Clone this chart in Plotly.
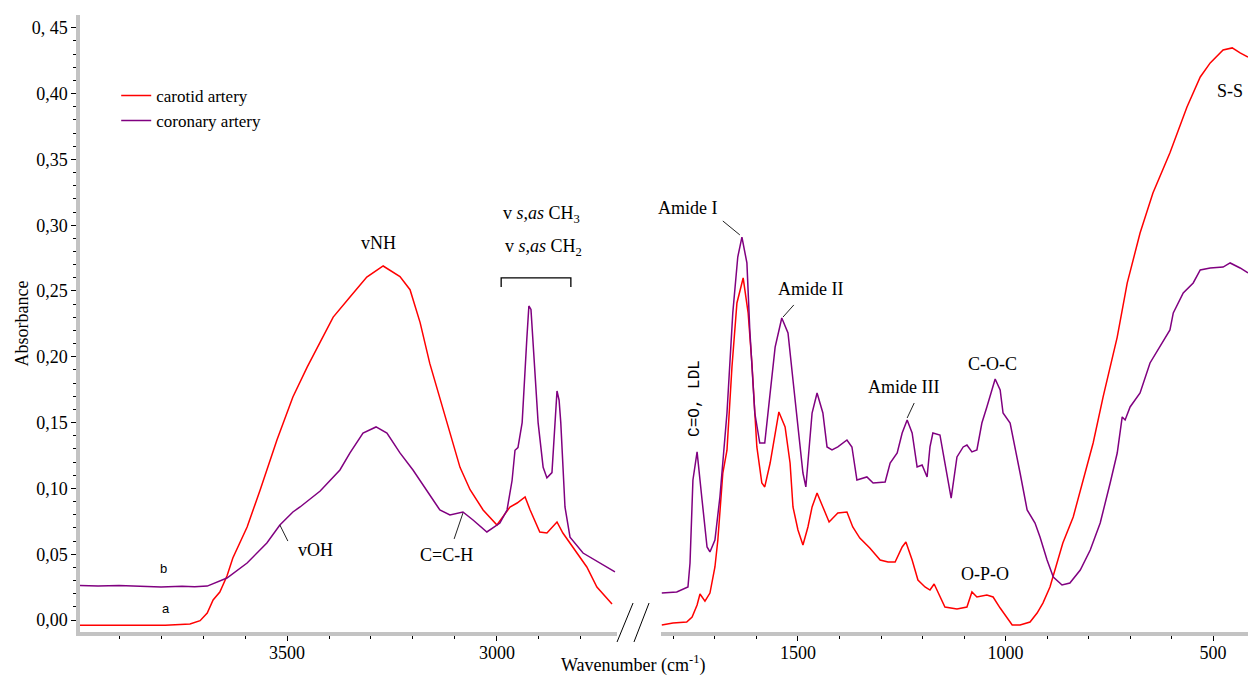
import plotly.graph_objects as go

# ---------------- data ----------------
# left panel (high wavenumber region)
carotid_left_wn = [3993, 3900, 3790, 3731, 3707, 3690, 3676, 3660, 3643, 3629, 3612, 3595,
                   3564, 3524, 3486, 3452, 3421, 3390, 3350, 3310, 3271, 3231, 3207, 3183,
                   3160, 3136, 3112, 3088, 3064, 3033, 3000, 2969, 2952, 2933, 2921, 2898,
                   2881, 2857, 2843, 2819, 2786, 2762, 2726]
carotid_left_abs = [-0.0040, -0.0040, -0.0040, -0.0030, -0.0005, 0.0053, 0.0152, 0.0213, 0.0334, 0.0471, 0.0585, 0.0707,
                    0.0988, 0.1368, 0.1695, 0.1922, 0.2112, 0.2302, 0.2454, 0.2606, 0.2690, 0.2610, 0.2510, 0.2260,
                    0.1950, 0.1690, 0.1420, 0.1160, 0.0990, 0.0836, 0.0722, 0.0859, 0.0889, 0.0935, 0.0836, 0.0669,
                    0.0661, 0.0745, 0.0661, 0.0555, 0.0403, 0.0251, 0.0122]

coronary_left_wn = [3993, 3950, 3900, 3850, 3800, 3750, 3720, 3690, 3643, 3595, 3548, 3517, 3486,
                    3469, 3421, 3374, 3350, 3319, 3288, 3262, 3231, 3200, 3167, 3136, 3112,
                    3081, 3057, 3024, 2993, 2976, 2964, 2957, 2950, 2940, 2929, 2924, 2919,
                    2914, 2902, 2890, 2881, 2869, 2862, 2857, 2852, 2848, 2838, 2826, 2795,
                    2755, 2719]
coronary_left_abs = [0.0262, 0.0258, 0.0262, 0.0255, 0.0250, 0.0256, 0.0252, 0.0258, 0.0319, 0.0433, 0.0585, 0.0722, 0.0821,
                     0.0859, 0.0980, 0.1140, 0.1270, 0.1420, 0.1467, 0.1420, 0.1270, 0.1140, 0.0988, 0.0836, 0.0798,
                     0.0821, 0.0760, 0.0669, 0.0737, 0.0836, 0.1060, 0.1290, 0.1310, 0.1500, 0.2130, 0.2386, 0.2360,
                     0.2130, 0.1500, 0.1160, 0.1080, 0.1120, 0.1500, 0.1740, 0.1670, 0.1500, 0.0859, 0.0630, 0.0509,
                     0.0433, 0.0365]

# right panel (fingerprint region)
carotid_right_wn = [1828, 1801, 1768, 1755, 1743, 1736, 1724, 1712, 1700, 1693, 1681, 1671, 1659,
                    1647, 1632, 1620, 1611, 1599, 1587, 1580, 1567, 1555, 1546, 1531, 1519,
                    1512, 1500, 1488, 1476, 1466, 1454, 1440, 1425, 1404, 1382, 1368, 1351,
                    1327, 1302, 1283, 1266, 1249, 1240, 1225, 1211, 1194, 1182, 1172, 1158,
                    1146, 1117, 1093, 1081, 1069, 1045, 1030, 1013, 996, 984, 965, 941,
                    924, 910, 893, 881, 862, 837, 813, 789, 765, 743, 731, 707, 676, 645,
                    604, 563, 531, 507, 476, 454, 435, 416]
carotid_right_abs = [-0.0038, -0.0023, -0.0015, 0.0023, 0.0114, 0.0198, 0.0144, 0.0205, 0.0403, 0.0608, 0.1117, 0.1290, 0.1922,
                     0.2409, 0.2599, 0.2333, 0.1953, 0.1315, 0.1041, 0.1011, 0.1193, 0.1421, 0.1581, 0.1467, 0.1193,
                     0.0859, 0.0684, 0.0570, 0.0707, 0.0859, 0.0965, 0.0859, 0.0745, 0.0813, 0.0821, 0.0707, 0.0623,
                     0.0547, 0.0456, 0.0441, 0.0441, 0.0555, 0.0593, 0.0456, 0.0304, 0.0251, 0.0228, 0.0274, 0.0175,
                     0.0099, 0.0084, 0.0099, 0.0213, 0.0175, 0.0190, 0.0175, 0.0091, 0.0015, -0.0038, -0.0038, -0.0015,
                     0.0053, 0.0129, 0.0251, 0.0380, 0.0585, 0.0783, 0.1064, 0.1345, 0.1695, 0.1998, 0.2150, 0.2560, 0.2940, 0.3245,
                     0.3550, 0.3898, 0.4126, 0.4233, 0.4331, 0.4347, 0.4309, 0.4278]

coronary_right_wn = [1828, 1792, 1765, 1760, 1753, 1743, 1731, 1719, 1712, 1700, 1688, 1671, 1657,
                     1645, 1635, 1623, 1616, 1604, 1592, 1580, 1568, 1555, 1539, 1524, 1512,
                     1500, 1488, 1481, 1466, 1454, 1440, 1430, 1418, 1404, 1382, 1370, 1358,
                     1334, 1319, 1290, 1278, 1261, 1249, 1237, 1225, 1213, 1201, 1189, 1182,
                     1175, 1158, 1146, 1131, 1117, 1102, 1093, 1081, 1069, 1057, 1045, 1032,
                     1025, 1013, 1006, 989, 977, 965, 948, 929, 917, 900, 885, 864, 845,
                     820, 796, 772, 748, 731, 719, 712, 700, 676, 652, 628, 604, 596, 572,
                     548, 531, 507, 476, 459, 435, 416]
coronary_right_abs = [0.0205, 0.0213, 0.0251, 0.0433, 0.1064, 0.1277, 0.0912, 0.0555, 0.0517, 0.0608, 0.0935, 0.1573, 0.2333,
                      0.2758, 0.2910, 0.2713, 0.2204, 0.1573, 0.1345, 0.1345, 0.1695, 0.2074, 0.2295, 0.2181, 0.1824,
                      0.1444, 0.1117, 0.1011, 0.1573, 0.1725, 0.1573, 0.1315, 0.1292, 0.1315, 0.1368, 0.1315, 0.1064,
                      0.1087, 0.1041, 0.1049, 0.1193, 0.1269, 0.1421, 0.1520, 0.1421, 0.1163, 0.1178, 0.1087, 0.1315,
                      0.1421, 0.1406, 0.1193, 0.0927, 0.1239, 0.1315, 0.1330, 0.1277, 0.1292, 0.1497, 0.1619, 0.1771,
                      0.1831, 0.1748, 0.1573, 0.1497, 0.1315, 0.1117, 0.0836, 0.0737, 0.0631, 0.0456, 0.0327, 0.0266, 0.0281,
                      0.0380, 0.0532, 0.0737, 0.1041, 0.1269, 0.1543, 0.1520, 0.1619, 0.1725, 0.1953, 0.2074, 0.2204, 0.2333, 0.2485,
                      0.2561, 0.2660, 0.2675, 0.2682, 0.2713, 0.2675, 0.2637]

# tick labels
y_tick_vals = [0.00, 0.05, 0.10, 0.15, 0.20, 0.25, 0.30, 0.35, 0.40, 0.45]
y_tick_text = ["0,00", "0,05", "0,10", "0,15", "0,20", "0,25", "0,30", "0,35", "0,40", "0, 45"]
x_left_tick_vals = [3500, 3000]
x_left_tick_text = ["3500", "3000"]
x_right_tick_vals = [1500, 1000, 500]
x_right_tick_text = ["1500", "1000", "500"]

series_names = ["carotid artery", "coronary artery"]
RED = "#ff0000"
PURPLE = "#800080"
SERIF = "Liberation Serif"

fig = go.Figure()
fig.add_trace(go.Scatter(x=carotid_left_wn, y=carotid_left_abs, xaxis="x", yaxis="y", mode="lines",
                         line=dict(color=RED, width=1.5), name=series_names[0], legendgroup="a"))
fig.add_trace(go.Scatter(x=coronary_left_wn, y=coronary_left_abs, xaxis="x", yaxis="y", mode="lines",
                         line=dict(color=PURPLE, width=1.5), name=series_names[1], legendgroup="b"))
fig.add_trace(go.Scatter(x=carotid_right_wn, y=carotid_right_abs, xaxis="x2", yaxis="y", mode="lines",
                         line=dict(color=RED, width=1.5), name=series_names[0], legendgroup="a", showlegend=False))
fig.add_trace(go.Scatter(x=coronary_right_wn, y=coronary_right_abs, xaxis="x2", yaxis="y", mode="lines",
                         line=dict(color=PURPLE, width=1.5), name=series_names[1], legendgroup="b", showlegend=False))

axis_common = dict(showline=True, linecolor="#c3c3c3", linewidth=3.5, showgrid=False, zeroline=False,
                   ticks="outside", ticklen=5, tickwidth=1, tickcolor="black",
                   tickfont=dict(family=SERIF, size=18, color="black"))

fig.update_layout(
    width=1248, height=675,
    margin=dict(l=80, r=0, t=15, b=43),
    plot_bgcolor="white", paper_bgcolor="white",
    xaxis=dict(domain=[0, 0.4598], range=[3993, 2714], anchor="y",
               tickmode="array", tickvals=x_left_tick_vals, ticktext=x_left_tick_text,
               minor=dict(tickmode="linear", tick0=0, dtick=100, ticks="outside", ticklen=3, tickcolor="black"),
               ticklabelstandoff=-3, **axis_common),
    xaxis2=dict(domain=[0.4974, 1], range=[1830, 416], anchor="y",
                tickmode="array", tickvals=x_right_tick_vals, ticktext=x_right_tick_text,
                minor=dict(tickmode="linear", tick0=0, dtick=100, ticks="outside", ticklen=3, tickcolor="black"),
                ticklabelstandoff=-3, **axis_common),
    yaxis=dict(domain=[0, 1], range=[-0.0091, 0.4597], anchor="x",
               tickmode="array", tickvals=y_tick_vals, ticktext=y_tick_text,
               minor=dict(tickmode="linear", tick0=0, dtick=0.01, ticks="outside", ticklen=3, tickcolor="black"),
               **axis_common),
    legend=dict(x=0.031, y=0.898, xanchor="left", yanchor="top", bgcolor="rgba(0,0,0,0)",
                font=dict(family=SERIF, size=17, color="black"), tracegroupgap=0, itemwidth=30),
    showlegend=True,
)

ann_font = dict(family=SERIF, size=18, color="black")
labels = [
    # text, xref, x, y
    ("vNH", "x", 3281, 0.2865),
    ("v <i>s,as</i> CH<sub>3</sub>", "x", 2895, 0.3078),
    ("v <i>s,as</i> CH<sub>2</sub>", "x", 2888, 0.2834),
    ("C=C-H", "x", 3121, 0.0494),
    ("vOH", "x", 3431, 0.0532),
    ("Amide I", "x2", 1765, 0.313),
    ("Amide II", "x2", 1471, 0.2515),
    ("Amide III", "x2", 1247, 0.177),
    ("C-O-C", "x2", 1032, 0.1945),
    ("O-P-O", "x2", 1049, 0.035),
    ("S-S", "x2", 459, 0.402),
]
for t, xr, xv, yv in labels:
    fig.add_annotation(text=t, xref=xr, yref="y", x=xv, y=yv, showarrow=False, font=ann_font)

fig.add_annotation(text="C=O, LDL", xref="x2", yref="y", x=1748, y=0.168, showarrow=False, textangle=-90,
                   font=dict(family="Liberation Mono", size=16, color="black"))
fig.add_annotation(text="b", xref="x", yref="y", x=3793, y=0.0395, showarrow=False,
                   font=dict(family="Liberation Sans", size=13, color="black"))
fig.add_annotation(text="a", xref="x", yref="y", x=3788, y=0.0091, showarrow=False,
                   font=dict(family="Liberation Sans", size=13, color="black"))
fig.add_annotation(text="Absorbance", xref="paper", yref="paper", x=-0.0497, y=0.50, showarrow=False,
                   xanchor="center", yanchor="middle",
                   textangle=-90, font=dict(family=SERIF, size=18, color="black"))
fig.add_annotation(text="Wavenumber (cm<sup>-1</sup>)", xref="paper", yref="paper", x=0.4735, y=-0.052,
                   showarrow=False, xanchor="center", yanchor="middle",
                   font=dict(family=SERIF, size=18, color="black"))

# leader lines and bracket
leaders = [
    ("x", 3081, 0.0813, 3102, 0.0616),
    ("x", 3517, 0.0722, 3498, 0.0600),
    ("x2", 1681, 0.3032, 1640, 0.2926),
    ("x2", 1510, 0.2394, 1536, 0.2302),
    ("x2", 1220, 0.1649, 1237, 0.1535),
]
for xr, x0, y0, x1, y1 in leaders:
    fig.add_shape(type="line", xref=xr, yref="y", x0=x0, y0=y0, x1=x1, y1=y1,
                  line=dict(color="#222222", width=1))
fig.add_shape(type="path", xref="x", yref="y",
              path="M 2990,0.2530 L 2990,0.2599 L 2824,0.2599 L 2824,0.2530",
              line=dict(color="black", width=1.3))

# axis break marks
for x0, x1 in [(0.4598, 0.4735), (0.4743, 0.4872)]:
    fig.add_shape(type="line", xref="paper", yref="paper", x0=x0, y0=-0.0162, x1=x1, y1=0.047,
                  line=dict(color="black", width=1))

fig.write_html("out.html", config={"displayModeBar": False},
               post_script="document.body.style.margin='0';document.body.style.overflow='hidden';")
